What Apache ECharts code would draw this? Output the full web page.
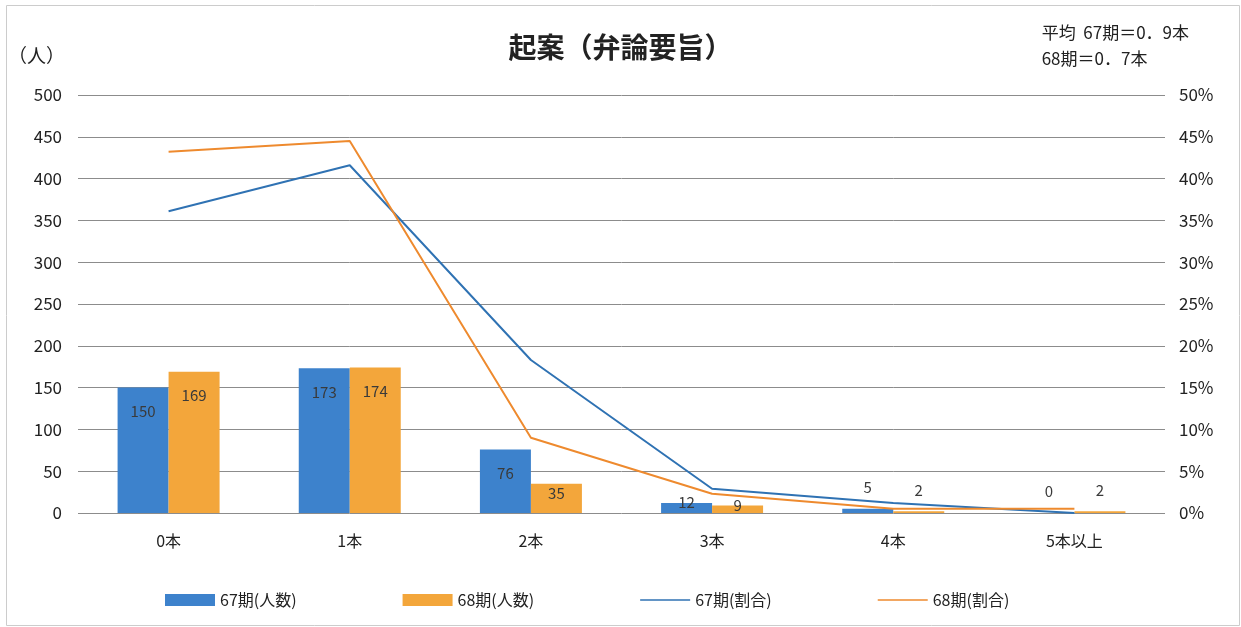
<!DOCTYPE html>
<html><head><meta charset="utf-8">
<script src="https://cdn.jsdelivr.net/npm/echarts@6/dist/echarts.min.js"></script>
<style>html,body{margin:0;padding:0;background:#fff}#c{width:1241px;height:627px}</style>
</head><body><div id="c"></div>
<script>
const categories = ['0本','1本','2本','3本','4本','5本以上'];
const count67 = [150, 173, 76, 12, 5, 0];
const count68 = [169, 174, 35, 9, 2, 2];
const ratio67 = [36.1, 41.6, 18.3, 2.9, 1.2, 0.0];
const ratio68 = [43.2, 44.5, 9.0, 2.3, 0.5, 0.5];
const leftTicks = {min: 0, max: 500, interval: 50};
const rightTicks = {min: 0, max: 50, interval: 5};
const seriesNames = ['67期(人数)', '68期(人数)', '67期(割合)', '68期(割合)'];
const titleText = '起案（弁論要旨）';
const unitText = '（人）';
const noteLines = ['平均  67期＝0．9本', '68期＝0．7本'];

const FONT = '"Noto Sans CJK JP", "Noto Sans", sans-serif';
function labelFor(v) {
  if (v >= 50) return {position: 'insideTop', distance: 16};
  if (v >= 20) return {position: 'insideTop', distance: 2};
  if (v >= 8) return {position: 'insideTop', distance: -8};
  return {position: 'top', distance: 14};
}
function barData(arr) {
  return arr.map(v => ({value: v, label: labelFor(v)}));
}
const LINE_ICON = 'path://M0,0H50V1.6H0Z';
const chart = echarts.init(document.getElementById('c'));
chart.setOption({
  animation: false,
  textStyle: {fontFamily: FONT},
  title: {text: titleText, left: 'center', top: 28,
    textStyle: {fontSize: 28, fontWeight: 'bold', color: '#222', fontFamily: FONT}},
  graphic: [
    {type: 'text', left: 8, top: 46, style: {text: unitText, fill: '#222', font: '19px ' + FONT}},
    {type: 'text', right: 52, top: 20, style: {text: noteLines[0] + '\n' + noteLines[1], align: 'right', lineHeight: 26, fill: '#222', font: '17px ' + FONT}},
    {type: 'rect', left: 4, top: 3, shape: {width: 1233, height: 620}, style: {fill: 'none', stroke: '#ccc', lineWidth: 1}}
  ],
  grid: {left: 78, right: 76, top: 95, bottom: 114, containLabel: false},
  legend: {
    bottom: 14, left: 160, itemGap: 106, itemWidth: 50, itemHeight: 12,
    textStyle: {fontSize: 16, color: '#222', fontFamily: FONT},
    data: [
      {name: seriesNames[0], icon: 'rect'},
      {name: seriesNames[1], icon: 'rect'},
      {name: seriesNames[2], icon: LINE_ICON},
      {name: seriesNames[3], icon: LINE_ICON}
    ]
  },
  xAxis: {
    type: 'category', data: categories,
    axisLine: {show: false}, axisTick: {show: false},
    axisLabel: {fontSize: 16, color: '#222', margin: 20}
  },
  yAxis: [
    {type: 'value', min: leftTicks.min, max: leftTicks.max, interval: leftTicks.interval,
      axisLine: {show: false}, axisTick: {show: false},
      axisLabel: {fontSize: 17, color: '#222', margin: 16},
      splitLine: {lineStyle: {color: '#8c8c8c', width: 1}}},
    {type: 'value', min: rightTicks.min, max: rightTicks.max, interval: rightTicks.interval,
      axisLine: {show: false}, axisTick: {show: false},
      axisLabel: {fontSize: 17, color: '#222', margin: 14, formatter: '{value}%'},
      splitLine: {show: false}}
  ],
  series: [
    {name: seriesNames[0], type: 'bar', data: barData(count67), barWidth: 51, barGap: '0%',
      itemStyle: {color: '#3d82cc'},
      label: {show: true, fontSize: 15, color: '#3a3a3a'}},
    {name: seriesNames[1], type: 'bar', data: barData(count68), barWidth: 51,
      itemStyle: {color: '#f3a63b'},
      label: {show: true, fontSize: 15, color: '#3a3a3a'}},
    {name: seriesNames[2], type: 'line', yAxisIndex: 1, data: ratio67, symbol: 'none',
      lineStyle: {color: '#2f72b3', width: 2}, itemStyle: {color: '#2f72b3'}},
    {name: seriesNames[3], type: 'line', yAxisIndex: 1, data: ratio68, symbol: 'none',
      lineStyle: {color: '#ee8a2e', width: 2}, itemStyle: {color: '#ee8a2e'}}
  ]
});
</script></body></html>
